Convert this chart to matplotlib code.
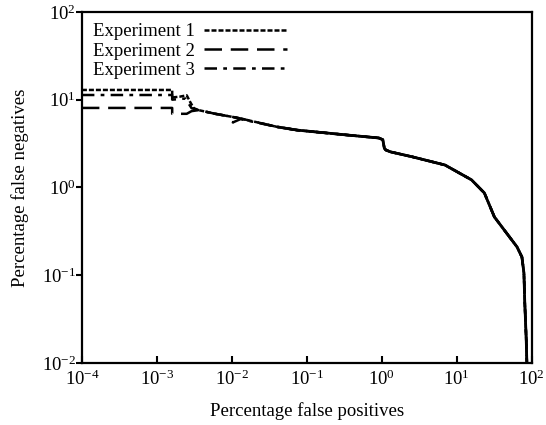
import matplotlib
matplotlib.use("Agg")
import matplotlib.pyplot as plt

plt.rcParams["font.family"] = "Liberation Serif"
plt.rcParams["mathtext.fontset"] = "custom"
plt.rcParams["mathtext.rm"] = "Liberation Serif"
plt.rcParams["mathtext.it"] = "Liberation Serif:italic"

# shared tail of the three DET curves (they overlap after ~4e-3 %)
tail_fp = [3.6e-3, 6e-3, 0.012, 0.04, 0.074, 0.34, 0.91, 1.03, 1.08, 1.13, 1.31,
           2.56, 6.95, 15.7, 23.3, 31.7, 42.8, 63.5, 73.8, 78.5, 80.5, 84.0, 86.0]
tail_fn = [7.6, 6.9, 6.2, 4.9, 4.5, 3.96, 3.66, 3.5, 2.8, 2.67, 2.54,
           2.23, 1.80, 1.22, 0.865, 0.461, 0.328, 0.21, 0.161, 0.106, 0.05, 0.02, 0.01]

exp1_fp = [1e-4, 1.6e-3, 1.6e-3, 2.0e-3, 2.5e-3, 2.8e-3, 3.1e-3] + tail_fp
exp1_fn = [12.9, 12.9, 10.6, 10.8, 11.2, 9.3, 8.0] + tail_fn
exp2_fp = [1e-4, 1.6e-3, 1.6e-3, 2.5e-3, 2.9e-3] + tail_fp
exp2_fn = [8.05, 8.05, 6.9, 6.9, 7.4] + tail_fn
exp3_fp = [1e-4, 1.6e-3, 1.6e-3, 2.4e-3, 2.9e-3] + tail_fp[:3] + [0.0103, 0.013] + tail_fp[3:]
exp3_fn = [11.3, 11.3, 10.0, 10.3, 8.0] + tail_fn[:3] + [5.5, 6.0] + tail_fn[3:]

fig = plt.figure(figsize=(5.46, 4.25), dpi=100)
ax = fig.add_axes([0.150, 0.146, 0.824, 0.826])

ax.plot(exp1_fp, exp1_fn, color="k", lw=1.8, ls=(0, (2, 0.8)), label="Experiment 1")
ax.plot(exp2_fp, exp2_fn, color="k", lw=1.8, ls=(0, (7, 3.5)), label="Experiment 2")
ax.plot(exp3_fp, exp3_fn, color="k", lw=1.8, ls=(0, (5, 2.5, 1.5, 2.5)), label="Experiment 3")
# where the three curves coincide their dashes fill each other in -> solid
ax.plot(tail_fp[3:], tail_fn[3:], color="k", lw=2.0, solid_capstyle="butt")

ax.set_xscale("log")
ax.set_yscale("log")
ax.set_xlim(1e-4, 1e2)
ax.set_ylim(1e-2, 1e2)
ax.minorticks_off()
ax.set_xticks([1e-4, 1e-3, 1e-2, 1e-1, 1e0, 1e1, 1e2])
ax.set_yticks([1e-2, 1e-1, 1e0, 1e1, 1e2])
ax.tick_params(axis="x", direction="in", length=5, width=1.5, labelsize=13.5, pad=5)
ax.tick_params(axis="y", direction="out", length=4, width=1.5, labelsize=13.5, pad=0.5)
for s in ax.spines.values():
    s.set_linewidth(1.6)

ax.set_xlabel("Percentage false positives", fontsize=13.5, labelpad=9)
ax.set_ylabel("Percentage false negatives", fontsize=13.5, labelpad=9)

ax.legend(loc="upper left", frameon=False, markerfirst=False, fontsize=13.5,
          handlelength=4.4, handletextpad=0.5, labelspacing=0.12,
          borderaxespad=0.3, borderpad=0.3)

fig.savefig("out.png", dpi=100)
